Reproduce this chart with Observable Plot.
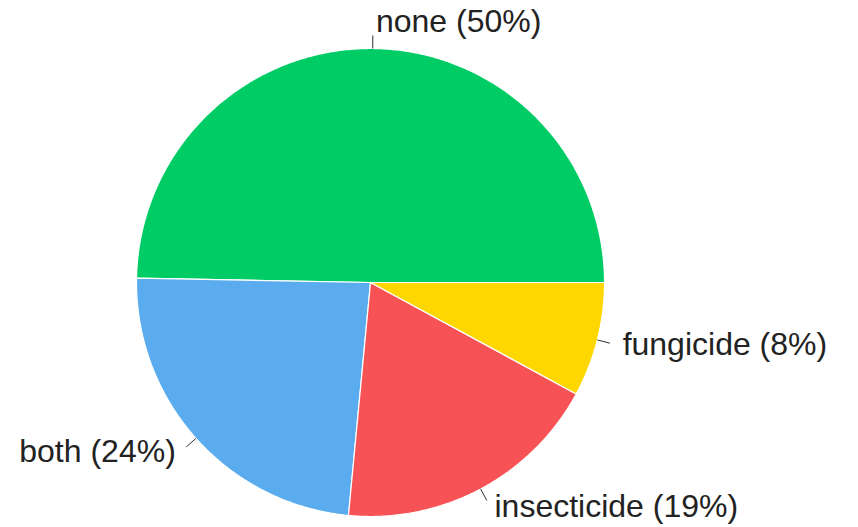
<!DOCTYPE html>
<html>
<head>
<meta charset="utf-8">
<script src="https://cdn.jsdelivr.net/npm/d3@7"></script>
<script src="https://cdn.jsdelivr.net/npm/@observablehq/plot@0.6"></script>
<style>
  html, body { margin: 0; padding: 0; background: #fff; }
</style>
</head>
<body>
<div id="chart"></div>
<script>
// Data
const categories = ["none", "both", "insecticide", "fungicide"];
const values = [49.7, 23.8, 18.6, 7.9];
const colors = ["#00cc66", "#5aacee", "#f75256", "#ffd700"];

const W = 858, H = 527;
const cx = 370, cy = 282, R = 234;   // pixel layout of the pie
const px = R; // pixels per data unit

const total = d3.sum(values);
let acc = 0;
const slices = categories.map((c, i) => {
  const a0 = acc / total * 2 * Math.PI;
  acc += values[i];
  const a1 = acc / total * 2 * Math.PI;
  return {label: c, value: values[i], pct: values[i] / total * 100, a0, a1, mid: (a0 + a1) / 2};
});

// polygon points of each slice (counterclockwise from east)
const pts = [];
for (const s of slices) {
  pts.push({label: s.label, x: 0, y: 0});
  const n = Math.max(2, Math.ceil((s.a1 - s.a0) / (Math.PI / 360)));
  for (let k = 0; k <= n; k++) {
    const a = s.a0 + (s.a1 - s.a0) * k / n;
    pts.push({label: s.label, x: Math.cos(a), y: Math.sin(a)});
  }
  pts.push({label: s.label, x: 0, y: 0});
}

// connectors and label anchors
const lab = slices.map(s => {
  const c = Math.cos(s.mid), sn = Math.sin(s.mid);
  const ro = 1 + 13 / px;
  const ox = c * ro, oy = sn * ro;
  const gap = (3 + 10 * Math.abs(c)) / px;
  const off = (sn > 0 ? 14 * sn : 7.5 * (-sn)) / px;
  return {
    label: s.label,
    text: `${s.label} (${Math.round(s.pct)}%)`,
    ex: c, ey: sn, ox, oy,
    tx: c >= 0 ? ox + gap : ox - gap,
    ty: sn > 0 ? oy + off : oy - off,
    anchor: c >= 0 ? "start" : "end"
  };
});

const font = "'Liberation Sans', Arial, Helvetica, sans-serif";

const chart = Plot.plot({
  width: W,
  height: H,
  margin: 0,
  x: {domain: [-1, 1], range: [cx - R, cx + R], axis: null},
  y: {domain: [-1, 1], range: [cy + R, cy - R], axis: null},
  color: {domain: categories, range: colors},
  style: {fontFamily: font, background: "#fff"},
  marks: [
    Plot.line(pts, {x: "x", y: "y", z: "label", fill: "label", stroke: "white", strokeWidth: 1.2, strokeLinejoin: "round"}),
    Plot.link(lab, {x1: "ex", y1: "ey", x2: "ox", y2: "oy", stroke: "#333", strokeWidth: 1}),
    Plot.text(lab.filter(d => d.anchor === "start"), {x: "tx", y: "ty", text: "text", textAnchor: "start", fontSize: 32, fill: "#222", fontFamily: font}),
    Plot.text(lab.filter(d => d.anchor === "end"), {x: "tx", y: "ty", text: "text", textAnchor: "end", fontSize: 32, fill: "#222", fontFamily: font})
  ]
});
document.getElementById("chart").appendChild(chart);
</script>
</body>
</html>
